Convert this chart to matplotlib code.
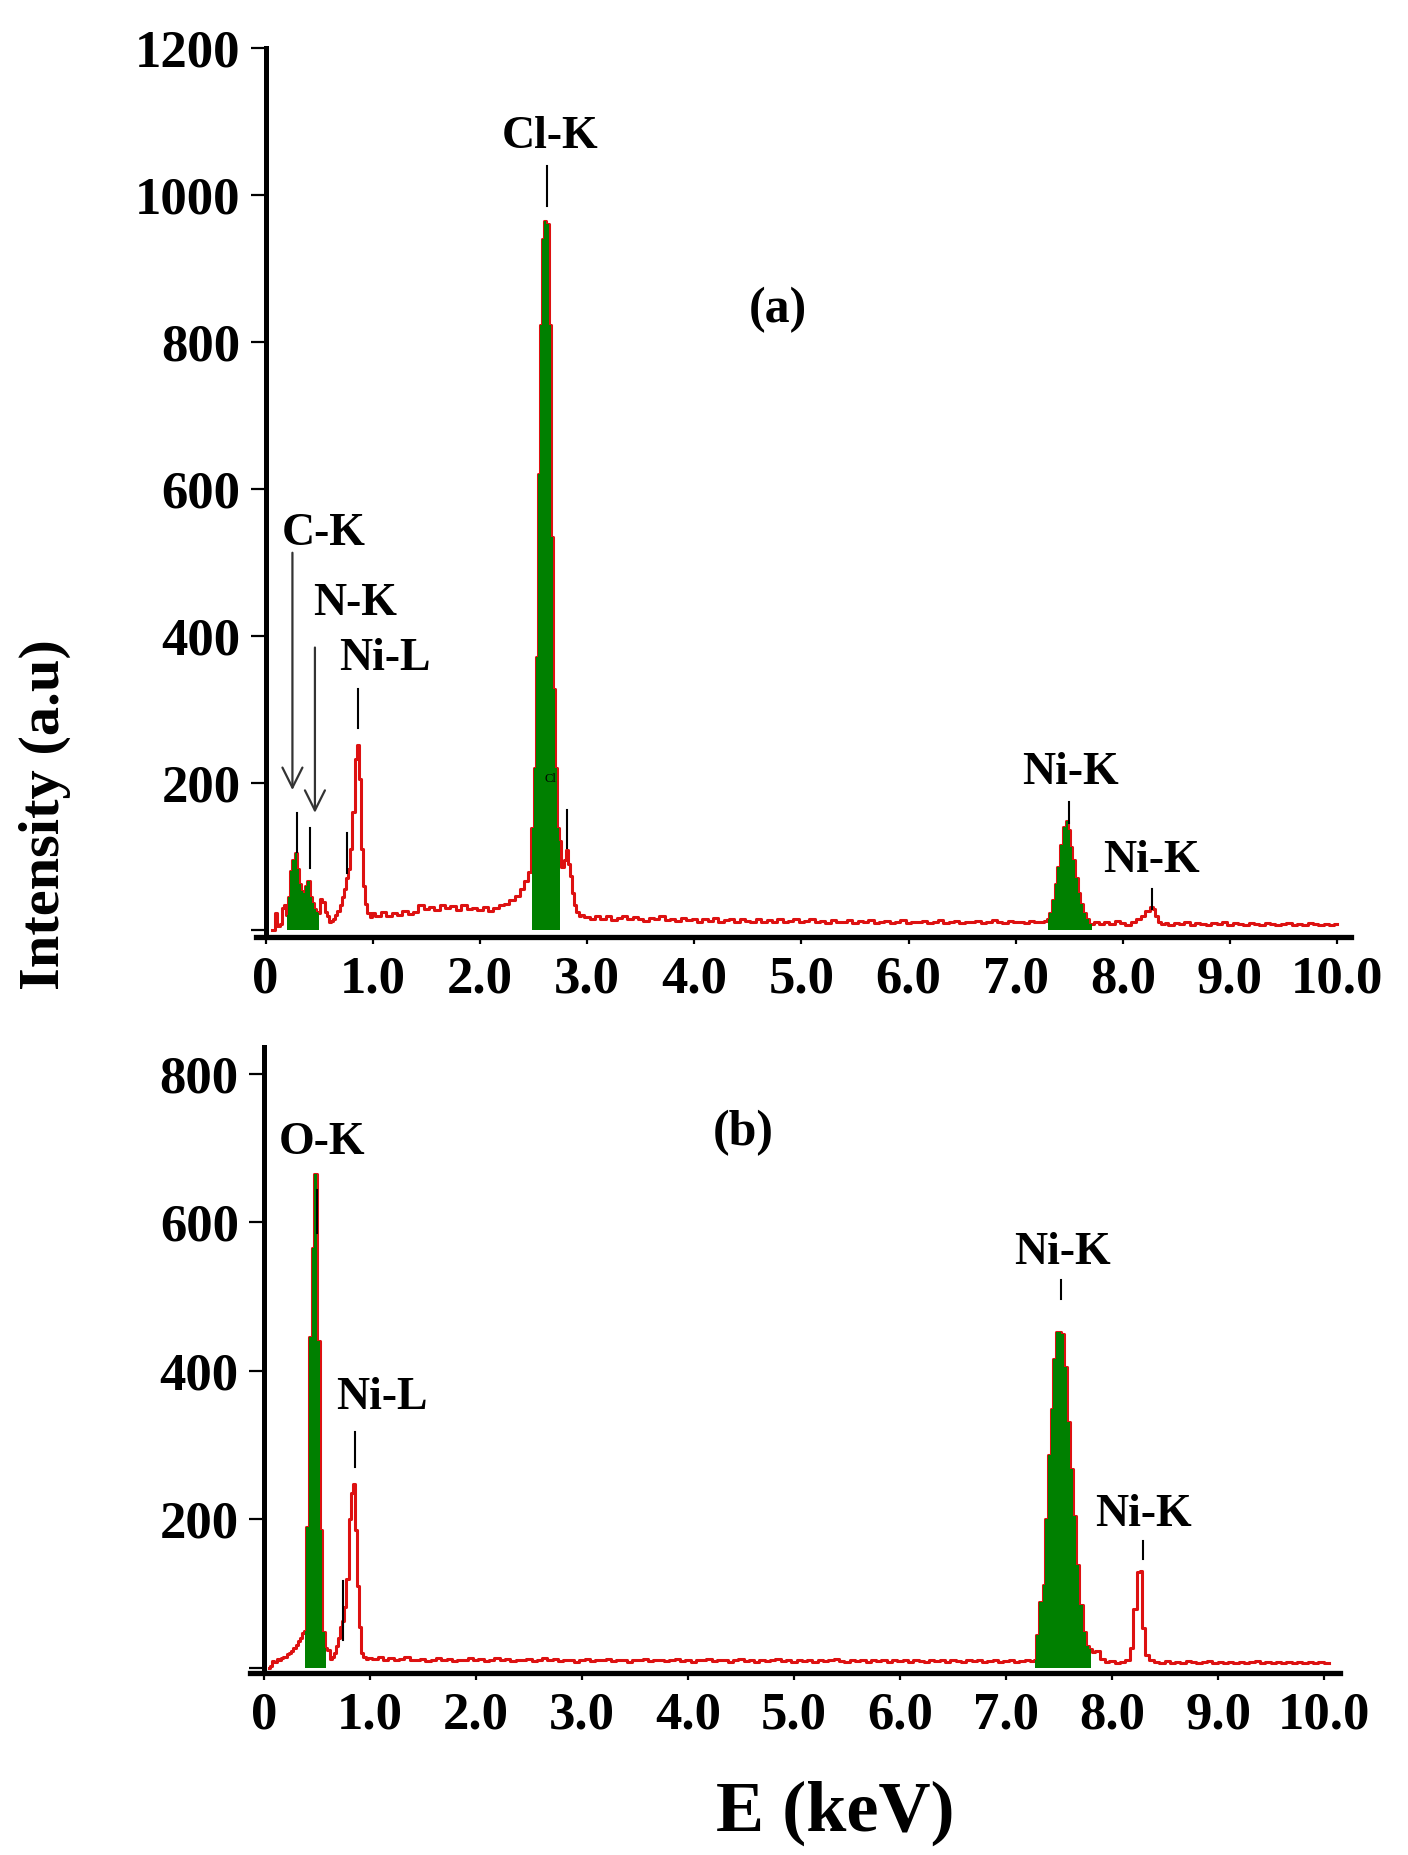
import matplotlib
matplotlib.use("Agg")
import numpy as np
import matplotlib.pyplot as plt

# EDS spectra: (energy keV, counts)
spectrum_a = [
    (0.06, 0), (0.08, 0), (0.10, 22), (0.12, 5), (0.14, 8), (0.16, 30), (0.18, 34),
    (0.20, 20), (0.22, 45), (0.24, 80), (0.26, 95), (0.28, 104), (0.30, 82), (0.32, 62),
    (0.34, 52), (0.36, 50), (0.38, 60), (0.40, 66), (0.42, 45), (0.44, 36), (0.46, 28),
    (0.48, 24), (0.50, 22), (0.52, 42), (0.54, 38), (0.56, 24), (0.58, 18), (0.60, 10),
    (0.62, 12), (0.64, 14), (0.66, 20), (0.68, 26), (0.70, 34), (0.72, 45), (0.74, 55),
    (0.76, 70), (0.78, 82), (0.80, 110), (0.82, 160), (0.84, 232), (0.86, 252), (0.88, 205),
    (0.90, 110), (0.92, 60), (0.94, 35), (0.96, 22), (0.98, 17), (1.00, 22), (1.05, 18),
    (1.10, 24), (1.15, 19), (1.20, 23), (1.25, 20), (1.30, 25), (1.35, 21), (1.40, 24),
    (1.45, 33), (1.50, 28), (1.55, 31), (1.60, 27), (1.65, 34), (1.70, 29), (1.75, 32),
    (1.80, 27), (1.85, 33), (1.90, 28), (1.95, 30), (2.00, 27), (2.05, 31), (2.10, 26),
    (2.15, 29), (2.20, 33), (2.25, 35), (2.30, 40), (2.35, 46), (2.40, 56), (2.43, 66),
    (2.46, 78), (2.49, 138), (2.51, 220), (2.53, 371), (2.55, 620), (2.57, 823), (2.59, 940),
    (2.61, 965), (2.63, 960), (2.65, 823), (2.67, 535), (2.69, 328), (2.71, 220), (2.73, 138),
    (2.75, 120), (2.77, 85), (2.79, 95), (2.81, 108), (2.83, 90), (2.85, 73), (2.87, 50),
    (2.89, 34), (2.91, 24), (2.93, 18), (2.95, 20),
    (3.00, 17), (3.05, 14), (3.10, 19), (3.15, 15), (3.20, 18), (3.25, 13), (3.30, 16),
    (3.35, 19), (3.40, 14), (3.45, 17), (3.50, 15), (3.55, 12), (3.60, 16), (3.65, 14),
    (3.70, 18), (3.75, 13), (3.80, 15), (3.85, 12), (3.90, 16), (3.95, 13), (4.00, 15),
    (4.05, 11), (4.10, 14), (4.15, 12), (4.20, 16), (4.25, 11), (4.30, 13), (4.35, 15),
    (4.40, 11), (4.45, 14), (4.50, 12), (4.55, 10), (4.60, 14), (4.65, 11), (4.70, 13),
    (4.75, 10), (4.80, 14), (4.85, 11), (4.90, 12), (4.95, 15), (5.00, 10), (5.05, 12),
    (5.10, 14), (5.15, 10), (5.20, 12), (5.25, 9), (5.30, 13), (5.35, 11), (5.40, 10),
    (5.45, 13), (5.50, 9), (5.55, 12), (5.60, 10), (5.65, 13), (5.70, 9), (5.75, 11),
    (5.80, 12), (5.85, 9), (5.90, 11), (5.95, 13), (6.00, 9), (6.05, 11), (6.10, 10),
    (6.15, 12), (6.20, 9), (6.25, 11), (6.30, 13), (6.35, 9), (6.40, 10), (6.45, 12),
    (6.50, 9), (6.55, 11), (6.60, 10), (6.65, 12), (6.70, 9), (6.75, 11), (6.80, 13),
    (6.85, 10), (6.90, 9), (6.95, 12), (7.00, 10), (7.05, 11), (7.10, 9), (7.15, 12),
    (7.20, 10), (7.25, 11), (7.28, 12), (7.30, 14), (7.32, 22), (7.35, 41), (7.38, 62),
    (7.40, 85), (7.43, 115), (7.46, 140), (7.48, 148), (7.50, 135), (7.52, 112), (7.54, 95),
    (7.57, 70), (7.59, 50), (7.62, 35), (7.64, 23), (7.67, 14), (7.69, 8), (7.71, 8),
    (7.75, 10), (7.80, 8), (7.85, 11), (7.90, 8), (7.95, 12), (8.00, 9), (8.05, 7),
    (8.10, 10), (8.15, 14), (8.19, 19), (8.23, 25), (8.27, 31), (8.29, 28), (8.31, 18),
    (8.34, 10), (8.38, 8),
    (8.40, 9), (8.45, 7), (8.50, 9), (8.55, 8), (8.60, 10), (8.65, 7), (8.70, 9),
    (8.75, 8), (8.80, 7), (8.85, 9), (8.90, 8), (8.95, 10), (9.00, 7), (9.05, 9),
    (9.10, 8), (9.15, 7), (9.20, 9), (9.25, 8), (9.30, 7), (9.35, 9), (9.40, 8),
    (9.45, 7), (9.50, 8), (9.55, 9), (9.60, 7), (9.65, 8), (9.70, 7), (9.75, 9),
    (9.80, 8), (9.85, 7), (9.90, 8), (9.95, 7), (10.00, 8),
]

spectrum_b = [
    (0.05, 0), (0.07, 3), (0.09, 9), (0.11, 8), (0.13, 12), (0.15, 10), (0.17, 13),
    (0.19, 15), (0.21, 14), (0.23, 18), (0.25, 20), (0.27, 23), (0.29, 27), (0.31, 31),
    (0.33, 36), (0.35, 40), (0.37, 47), (0.39, 50), (0.415, 190), (0.44, 445), (0.465, 565),
    (0.49, 665), (0.515, 440), (0.54, 185), (0.565, 48), (0.59, 26), (0.61, 24), (0.63, 12),
    (0.65, 14), (0.67, 20), (0.69, 30), (0.71, 40), (0.73, 55), (0.75, 63), (0.77, 82),
    (0.79, 120), (0.81, 200), (0.83, 235), (0.85, 247), (0.87, 185), (0.89, 110), (0.91, 55),
    (0.93, 20), (0.95, 14), (0.97, 12), (1.00, 13),
    (1.05, 12), (1.10, 14), (1.15, 11), (1.20, 13), (1.25, 10), (1.30, 12), (1.35, 14),
    (1.40, 11), (1.45, 10), (1.50, 12), (1.55, 9), (1.60, 11), (1.65, 13), (1.70, 10),
    (1.75, 12), (1.80, 9), (1.85, 11), (1.90, 10), (1.95, 13), (2.00, 10), (2.05, 12),
    (2.10, 9), (2.15, 11), (2.20, 13), (2.25, 10), (2.30, 12), (2.35, 9), (2.40, 11),
    (2.45, 10), (2.50, 12), (2.55, 9), (2.60, 11), (2.65, 13), (2.70, 10), (2.75, 12),
    (2.80, 9), (2.85, 11), (2.90, 10), (2.95, 8), (3.00, 10), (3.05, 12), (3.10, 9),
    (3.15, 11), (3.20, 10), (3.25, 12), (3.30, 9), (3.35, 11), (3.40, 10), (3.45, 8),
    (3.50, 11), (3.55, 10), (3.60, 12), (3.65, 9), (3.70, 11), (3.75, 10), (3.80, 9),
    (3.85, 11), (3.90, 12), (3.95, 9), (4.00, 10), (4.05, 8), (4.10, 11), (4.15, 10),
    (4.20, 12), (4.25, 9), (4.30, 11), (4.35, 10), (4.40, 8), (4.45, 10), (4.50, 12),
    (4.55, 9), (4.60, 10), (4.65, 8), (4.70, 11), (4.75, 9), (4.80, 10), (4.85, 12),
    (4.90, 9), (4.95, 10), (5.00, 8), (5.05, 11), (5.10, 9), (5.15, 10), (5.20, 8),
    (5.25, 11), (5.30, 9), (5.35, 10), (5.40, 12), (5.45, 9), (5.50, 8), (5.55, 10),
    (5.60, 9), (5.65, 11), (5.70, 8), (5.75, 10), (5.80, 9), (5.85, 11), (5.90, 8),
    (5.95, 10), (6.00, 9), (6.05, 11), (6.10, 8), (6.15, 10), (6.20, 9), (6.25, 8),
    (6.30, 10), (6.35, 9), (6.40, 11), (6.45, 8), (6.50, 10), (6.55, 9), (6.60, 8),
    (6.65, 10), (6.70, 9), (6.75, 11), (6.80, 8), (6.85, 9), (6.90, 10), (6.95, 8),
    (7.00, 9), (7.05, 10), (7.10, 8), (7.15, 9), (7.20, 10), (7.25, 9),
    (7.27, 10), (7.30, 44), (7.33, 88), (7.36, 111), (7.385, 200), (7.41, 286), (7.43, 349),
    (7.455, 416), (7.48, 452), (7.505, 452), (7.53, 450), (7.565, 405), (7.59, 331),
    (7.62, 268), (7.645, 205), (7.675, 138), (7.71, 84), (7.74, 48), (7.77, 30), (7.80, 25),
    (7.82, 21), (7.86, 23), (7.91, 12), (7.95, 8), (8.00, 9), (8.05, 7), (8.10, 8),
    (8.15, 10), (8.18, 26), (8.22, 79), (8.25, 129), (8.27, 131), (8.30, 53), (8.33, 17),
    (8.37, 10), (8.42, 8), (8.47, 7), (8.52, 9), (8.57, 7), (8.62, 8), (8.67, 7),
    (8.72, 9), (8.77, 8), (8.82, 7), (8.87, 8), (8.92, 9), (8.97, 7), (9.02, 8),
    (9.07, 7), (9.12, 8), (9.17, 7), (9.22, 8), (9.27, 7), (9.32, 8), (9.37, 9),
    (9.42, 7), (9.47, 8), (9.52, 7), (9.57, 8), (9.62, 7), (9.67, 8), (9.72, 7),
    (9.77, 8), (9.82, 7), (9.87, 8), (9.92, 7), (9.97, 8), (10.02, 7), (10.05, 7),
]

# energy windows shaded green (identified peaks)
green_a = [(0.20, 0.50), (2.49, 2.75), (7.30, 7.71)]
green_b = [(0.39, 0.59), (7.27, 7.80)]

# peak labels: (text, x, y)
labels_a = [("Cl-K", 2.65, 1079), ("C-K", 0.54, 538), ("N-K", 0.83, 443),
            ("Ni-L", 1.11, 369), ("Ni-K", 7.51, 213), ("Ni-K", 8.27, 94)]
labels_b = [("O-K", 0.55, 707), ("Ni-L", 1.11, 364), ("Ni-K", 7.53, 559),
            ("Ni-K", 8.30, 206)]

# short vertical marker lines: (x, y0, y1)
marks_a = [(2.63, 985, 1040), (0.86, 274, 328), (0.29, 106, 159), (0.41, 84, 138),
           (0.76, 77, 131), (2.81, 111, 163), (7.50, 145, 174), (8.27, 28, 56)]
marks_b = [(0.50, 585, 644), (0.86, 271, 318), (0.75, 37, 117), (7.52, 496, 522),
           (8.29, 147, 171)]

# arrows in panel (a): (x, y_start, y_end)
arrows_a = [(0.25, 513, 190), (0.46, 384, 159)]

xticks = [0, 1, 2, 3, 4, 5, 6, 7, 8, 9, 10]
xtick_labels = ["0", "1.0", "2.0", "3.0", "4.0", "5.0", "6.0", "7.0", "8.0", "9.0", "10.0"]

FONT = "Liberation Serif"
RED = "#dd1111"
GREEN = "#008000"

W, H = 1408, 1855
fig = plt.figure(figsize=(W / 100, H / 100), dpi=100)


def draw_panel(ax, spectrum, greens, labels, marks, yticks, xlim, ylim):
    E = np.array([p[0] for p in spectrum])
    C = np.array([p[1] for p in spectrum])
    ax.step(E, C, where="mid", color=RED, lw=2.2, zorder=2)
    for lo, hi in greens:
        sel = (E >= lo - 1e-9) & (E <= hi + 1e-9)
        ax.fill_between(E[sel], C[sel], 0, step="mid", color=GREEN, lw=0, zorder=3)
    for txt, x, y in labels:
        ax.text(x, y, txt, ha="center", va="center", fontsize=33,
                fontweight="bold", family=FONT, zorder=5)
    for x, y0, y1 in marks:
        ax.plot([x, x], [y0, y1], color="black", lw=1.5, zorder=4)

    ax.set_xlim(*xlim)
    ax.set_ylim(*ylim)
    ax.spines["top"].set_visible(False)
    ax.spines["right"].set_visible(False)
    ax.spines["left"].set_position(("data", 0))
    ax.spines["left"].set_linewidth(3.6)
    ax.spines["bottom"].set_linewidth(3.8)
    ax.set_xticks(xticks)
    ax.set_xticklabels(xtick_labels)
    ax.set_yticks(yticks)
    ax.set_yticklabels([""] + [str(v) for v in yticks[1:]])
    ax.tick_params(axis="y", direction="out", length=11, width=1.6, pad=7)
    ax.tick_params(axis="x", direction="out", length=5, width=1.6, pad=8)
    for lab in ax.get_xticklabels() + ax.get_yticklabels():
        lab.set_fontfamily(FONT)
        lab.set_fontweight("bold")
        lab.set_fontsize(38)
    ax.patch.set_alpha(0)


# panel (a)
ax_a = fig.add_axes([256 / W, 1 - 937 / H, 1095 / W, (937 - 48) / H])
draw_panel(ax_a, spectrum_a, green_a, labels_a, marks_a,
           [0, 200, 400, 600, 800, 1000, 1200], (-0.09, 10.13), (-10, 1200))
for x, y0, y1 in arrows_a:
    ax_a.annotate("", xy=(x, y1), xytext=(x, y0),
                  arrowprops=dict(arrowstyle="->", color="#333333", lw=1.6,
                                  mutation_scale=36, shrinkA=0, shrinkB=0), zorder=5)
ax_a.text(4.78, 843, "(a)", ha="center", va="center", fontsize=36,
          fontweight="bold", family=FONT)
ax_a.text(2.66, 205, "Cl", ha="center", va="center", fontsize=9, family=FONT, zorder=6)

# panel (b)
ax_b = fig.add_axes([250 / W, 1 - 1673 / H, 1090 / W, (1673 - 1047) / H])
draw_panel(ax_b, spectrum_b, green_b, labels_b, marks_b,
           [0, 200, 400, 600, 800], (-0.13, 10.15), (-7, 836))
ax_b.text(4.52, 720, "(b)", ha="center", va="center", fontsize=36,
          fontweight="bold", family=FONT)

fig.text(45 / W, 1 - 815 / H, "Intensity (a.u)", rotation=90, ha="center",
         va="center", fontsize=42, fontweight="bold", family=FONT)
fig.text(835 / W, 1 - 1813 / H, "E (keV)", ha="center", va="center",
         fontsize=52, fontweight="bold", family=FONT)

fig.savefig("out.png", dpi=100, facecolor="white")
